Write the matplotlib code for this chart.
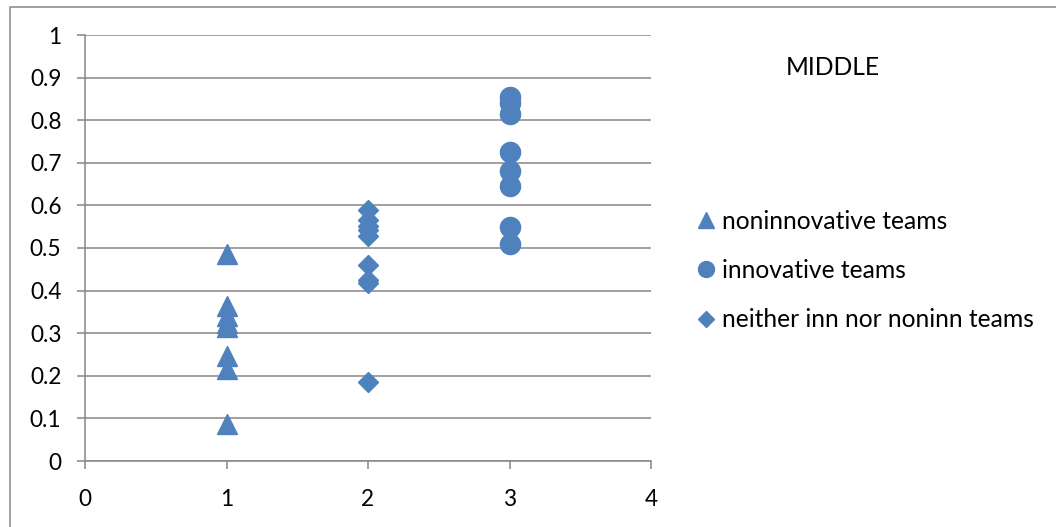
import matplotlib
matplotlib.use("Agg")
import matplotlib.pyplot as plt
from matplotlib.patches import Rectangle
from matplotlib.lines import Line2D

plt.rcParams['font.family'] = ['Lato', 'DejaVu Sans']

# Team scores by group (x = group index)
noninnovative_x = [1, 1, 1, 1, 1, 1, 1, 1]
noninnovative_y = [0.485, 0.365, 0.34, 0.325, 0.315, 0.247, 0.217, 0.088]

innovative_x = [3, 3, 3, 3, 3, 3, 3, 3]
innovative_y = [0.855, 0.84, 0.815, 0.725, 0.68, 0.645, 0.549, 0.51]

neither_x = [2, 2, 2, 2, 2, 2, 2, 2, 2]
neither_y = [0.589, 0.565, 0.552, 0.542, 0.527, 0.46, 0.425, 0.418, 0.186]

series_labels = ["noninnovative teams", "innovative teams", "neither inn nor noninn teams"]
chart_title = "MIDDLE"
x_ticks = [0, 1, 2, 3, 4]
y_ticks = [0, 0.1, 0.2, 0.3, 0.4, 0.5, 0.6, 0.7, 0.8, 0.9, 1]

blue = "#4F81BD"
grey = "#868686"

fig = plt.figure(figsize=(10.56, 5.27), dpi=100)
ax = fig.add_axes([85 / 1056, 1 - 461 / 527, (651 - 85) / 1056, (461 - 35) / 527])

ax.plot(noninnovative_x, noninnovative_y, linestyle="none", marker="^", ms=14.5,
        color=blue, mec=blue, clip_on=False, zorder=3)
ax.plot(innovative_x, innovative_y, linestyle="none", marker="o", ms=14.5,
        color=blue, mec=blue, clip_on=False, zorder=3)
ax.plot(neither_x, neither_y, linestyle="none", marker="D", ms=10.2,
        color=blue, mec=blue, clip_on=False, zorder=3)

ax.set_xlim(0, 4)
ax.set_ylim(0, 1)
ax.set_xticks(x_ticks)
ax.set_xticklabels([str(v) for v in x_ticks])
ax.set_yticks(y_ticks)
ax.set_yticklabels([f"{v:g}" for v in y_ticks])

ax.yaxis.grid(True, color=grey, linewidth=1.1)
ax.set_axisbelow(True)
for side in ["top", "right"]:
    ax.spines[side].set_visible(False)
for side in ["left", "bottom"]:
    ax.spines[side].set_color(grey)
    ax.spines[side].set_linewidth(1.1)
ax.tick_params(axis="both", colors=grey, labelcolor="black", labelsize=16.3,
               length=6, width=1.1, direction="out")
ax.tick_params(axis="x", pad=14)
ax.tick_params(axis="y", pad=11)

# Legend and heading on the right
handles = [
    Line2D([], [], linestyle="none", marker="^", ms=11.5, color=blue, mec=blue),
    Line2D([], [], linestyle="none", marker="o", ms=11.5, color=blue, mec=blue),
    Line2D([], [], linestyle="none", marker="D", ms=8, color=blue, mec=blue),
]
fig.legend(handles, series_labels, loc="upper left",
           bbox_to_anchor=(697 / 1056, 1 - 210 / 527), frameon=False,
           fontsize=17.7, handlelength=0.7, handletextpad=0.3,
           labelspacing=1.06, borderpad=0, borderaxespad=0)

fig.text(833 / 1056, 1 - 67 / 527, chart_title, ha="center", va="center",
         fontsize=17.7, color="black")

# Outer chart frame
fig.patches.append(Rectangle((9.5 / 1056, -0.05), 1.1, 1.05 - 6.5 / 527,
                             transform=fig.transFigure, fill=False,
                             edgecolor=grey, linewidth=1.1))

fig.savefig("out.png", dpi=100, facecolor="white")
